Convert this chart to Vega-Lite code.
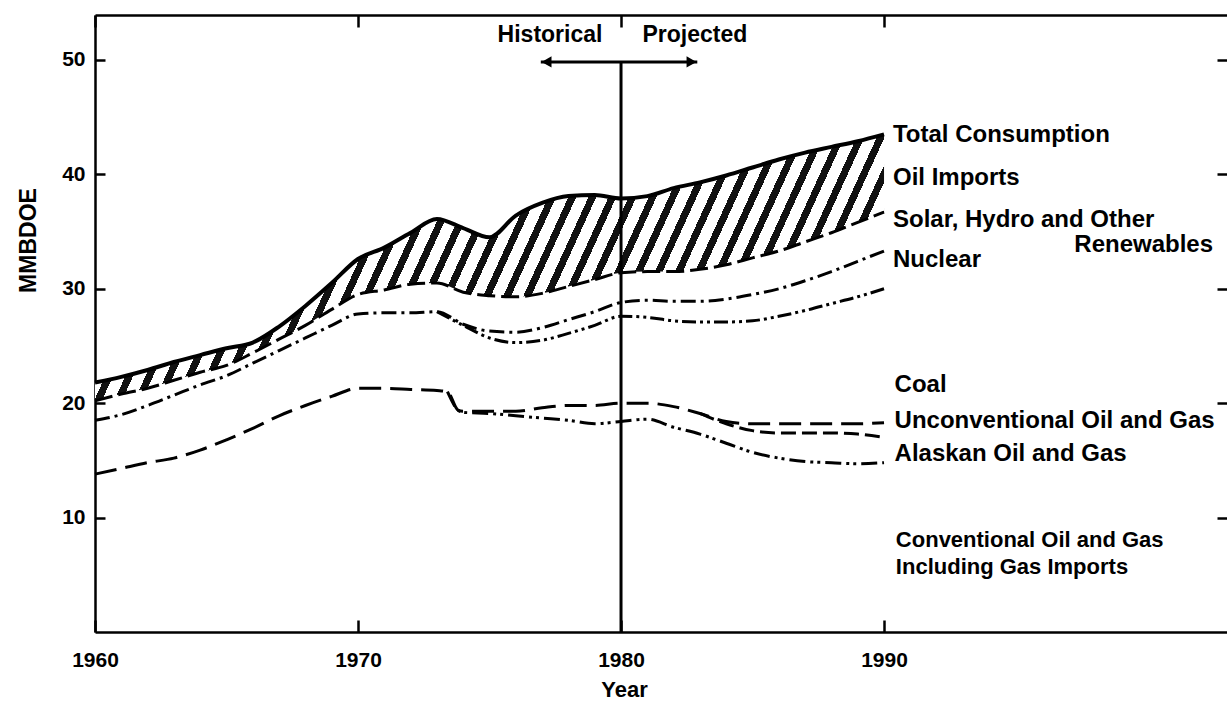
{
  "$schema": "https://vega.github.io/schema/vega-lite/v6.json",
  "width": 1132,
  "height": 617,
  "autosize": {"type": "none"},
  "padding": {"left": 95, "top": 15, "right": 0, "bottom": 72},
  "background": "white",
  "config": {"view": {"stroke": null}, "font": "Liberation Sans"},
  "datasets": {
    "boundaries": [
      {"series":"total","year":1960,"value":21.8},{"series":"total","year":1961,"value":22.3},{"series":"total","year":1962,"value":22.9},{"series":"total","year":1963,"value":23.6},{"series":"total","year":1964,"value":24.2},{"series":"total","year":1965,"value":24.8},{"series":"total","year":1966,"value":25.3},{"series":"total","year":1967,"value":26.7},{"series":"total","year":1968,"value":28.5},{"series":"total","year":1969,"value":30.5},{"series":"total","year":1970,"value":32.6},{"series":"total","year":1971,"value":33.6},{"series":"total","year":1972,"value":34.9},{"series":"total","year":1973,"value":36.1},{"series":"total","year":1974,"value":35.3},{"series":"total","year":1975,"value":34.5},{"series":"total","year":1976,"value":36.4},{"series":"total","year":1977,"value":37.5},{"series":"total","year":1978,"value":38.1},{"series":"total","year":1979,"value":38.2},{"series":"total","year":1980,"value":37.9},{"series":"total","year":1981,"value":38.1},{"series":"total","year":1982,"value":38.8},{"series":"total","year":1983,"value":39.3},{"series":"total","year":1984,"value":39.9},{"series":"total","year":1985,"value":40.6},{"series":"total","year":1986,"value":41.3},{"series":"total","year":1987,"value":41.9},{"series":"total","year":1988,"value":42.4},{"series":"total","year":1989,"value":42.9},{"series":"total","year":1990,"value":43.5},
      {"series":"renewables","year":1960,"value":20.2},{"series":"renewables","year":1961,"value":20.8},{"series":"renewables","year":1962,"value":21.3},{"series":"renewables","year":1963,"value":22.0},{"series":"renewables","year":1964,"value":22.7},{"series":"renewables","year":1965,"value":23.3},{"series":"renewables","year":1966,"value":24.4},{"series":"renewables","year":1967,"value":25.6},{"series":"renewables","year":1968,"value":26.8},{"series":"renewables","year":1969,"value":28.2},{"series":"renewables","year":1970,"value":29.5},{"series":"renewables","year":1971,"value":29.9},{"series":"renewables","year":1972,"value":30.4},{"series":"renewables","year":1973,"value":30.5},{"series":"renewables","year":1974,"value":29.7},{"series":"renewables","year":1975,"value":29.4},{"series":"renewables","year":1976,"value":29.3},{"series":"renewables","year":1977,"value":29.6},{"series":"renewables","year":1978,"value":30.2},{"series":"renewables","year":1979,"value":30.8},{"series":"renewables","year":1980,"value":31.4},{"series":"renewables","year":1981,"value":31.5},{"series":"renewables","year":1982,"value":31.5},{"series":"renewables","year":1983,"value":31.7},{"series":"renewables","year":1984,"value":32.1},{"series":"renewables","year":1985,"value":32.7},{"series":"renewables","year":1986,"value":33.3},{"series":"renewables","year":1987,"value":34.1},{"series":"renewables","year":1988,"value":34.9},{"series":"renewables","year":1989,"value":35.8},{"series":"renewables","year":1990,"value":36.7},
      {"series":"nuclear","year":1960,"value":18.5},{"series":"nuclear","year":1961,"value":19.0},{"series":"nuclear","year":1962,"value":19.8},{"series":"nuclear","year":1963,"value":20.7},{"series":"nuclear","year":1964,"value":21.6},{"series":"nuclear","year":1965,"value":22.4},{"series":"nuclear","year":1966,"value":23.5},{"series":"nuclear","year":1967,"value":24.6},{"series":"nuclear","year":1968,"value":25.7},{"series":"nuclear","year":1969,"value":26.8},{"series":"nuclear","year":1970,"value":27.8},{"series":"nuclear","year":1971,"value":27.9},{"series":"nuclear","year":1972,"value":27.9},{"series":"nuclear","year":1973,"value":28.0},{"series":"nuclear","year":1974,"value":26.9},{"series":"nuclear","year":1975,"value":26.3},{"series":"nuclear","year":1976,"value":26.2},{"series":"nuclear","year":1977,"value":26.6},{"series":"nuclear","year":1978,"value":27.3},{"series":"nuclear","year":1979,"value":28.0},{"series":"nuclear","year":1980,"value":28.8},{"series":"nuclear","year":1981,"value":29.0},{"series":"nuclear","year":1982,"value":28.9},{"series":"nuclear","year":1983,"value":28.9},{"series":"nuclear","year":1984,"value":29.1},{"series":"nuclear","year":1985,"value":29.5},{"series":"nuclear","year":1986,"value":30.0},{"series":"nuclear","year":1987,"value":30.7},{"series":"nuclear","year":1988,"value":31.5},{"series":"nuclear","year":1989,"value":32.4},{"series":"nuclear","year":1990,"value":33.3},
      {"series":"coal","year":1973,"value":28.0},{"series":"coal","year":1974,"value":26.8},{"series":"coal","year":1975,"value":25.7},{"series":"coal","year":1976,"value":25.3},{"series":"coal","year":1977,"value":25.5},{"series":"coal","year":1978,"value":26.1},{"series":"coal","year":1979,"value":26.8},{"series":"coal","year":1980,"value":27.6},{"series":"coal","year":1981,"value":27.5},{"series":"coal","year":1982,"value":27.2},{"series":"coal","year":1983,"value":27.1},{"series":"coal","year":1984,"value":27.1},{"series":"coal","year":1985,"value":27.2},{"series":"coal","year":1986,"value":27.6},{"series":"coal","year":1987,"value":28.1},{"series":"coal","year":1988,"value":28.7},{"series":"coal","year":1989,"value":29.3},{"series":"coal","year":1990,"value":30.0},
      {"series":"unconventional","year":1960,"value":13.8},{"series":"unconventional","year":1961,"value":14.3},{"series":"unconventional","year":1962,"value":14.8},{"series":"unconventional","year":1963,"value":15.2},{"series":"unconventional","year":1964,"value":15.9},{"series":"unconventional","year":1965,"value":16.8},{"series":"unconventional","year":1966,"value":17.8},{"series":"unconventional","year":1967,"value":18.9},{"series":"unconventional","year":1968,"value":19.8},{"series":"unconventional","year":1969,"value":20.6},{"series":"unconventional","year":1970,"value":21.3},{"series":"unconventional","year":1971,"value":21.3},{"series":"unconventional","year":1972,"value":21.2},{"series":"unconventional","year":1973,"value":21.1},{"series":"unconventional","year":1973.4,"value":21.0},{"series":"unconventional","year":1973.8,"value":19.4},{"series":"unconventional","year":1974,"value":19.3},{"series":"unconventional","year":1975,"value":19.3},{"series":"unconventional","year":1976,"value":19.3},{"series":"unconventional","year":1977,"value":19.6},{"series":"unconventional","year":1978,"value":19.8},{"series":"unconventional","year":1979,"value":19.8},{"series":"unconventional","year":1980,"value":20.0},{"series":"unconventional","year":1981,"value":20.0},{"series":"unconventional","year":1982,"value":19.7},{"series":"unconventional","year":1983,"value":19.1},{"series":"unconventional","year":1984,"value":18.4},{"series":"unconventional","year":1985,"value":18.2},{"series":"unconventional","year":1986,"value":18.2},{"series":"unconventional","year":1987,"value":18.2},{"series":"unconventional","year":1988,"value":18.2},{"series":"unconventional","year":1989,"value":18.2},{"series":"unconventional","year":1990,"value":18.3},
      {"series":"alaskan","year":1983,"value":19.1},{"series":"alaskan","year":1984,"value":18.2},{"series":"alaskan","year":1985,"value":17.6},{"series":"alaskan","year":1986,"value":17.4},{"series":"alaskan","year":1987,"value":17.4},{"series":"alaskan","year":1988,"value":17.4},{"series":"alaskan","year":1989,"value":17.3},{"series":"alaskan","year":1990,"value":17.0},
      {"series":"conventional","year":1973.4,"value":21.0},{"series":"conventional","year":1973.8,"value":19.4},{"series":"conventional","year":1974,"value":19.2},{"series":"conventional","year":1975,"value":19.1},{"series":"conventional","year":1976,"value":18.9},{"series":"conventional","year":1977,"value":18.7},{"series":"conventional","year":1978,"value":18.5},{"series":"conventional","year":1979,"value":18.2},{"series":"conventional","year":1980,"value":18.4},{"series":"conventional","year":1981,"value":18.6},{"series":"conventional","year":1982,"value":17.9},{"series":"conventional","year":1983,"value":17.3},{"series":"conventional","year":1984,"value":16.5},{"series":"conventional","year":1985,"value":15.7},{"series":"conventional","year":1986,"value":15.2},{"series":"conventional","year":1987,"value":14.9},{"series":"conventional","year":1988,"value":14.8},{"series":"conventional","year":1989,"value":14.7},{"series":"conventional","year":1990,"value":14.8}
    ],
    "labels": [
      {"x":1990.34,"y":42.83,"label":"Total Consumption"},
      {"x":1990.34,"y":39.07,"label":"Oil Imports"},
      {"x":1990.34,"y":35.4,"label":"Solar, Hydro  and Other"},
      {"x":1990.34,"y":31.91,"label":"Nuclear"},
      {"x":1990.4,"y":20.98,"label":"Coal"},
      {"x":1990.4,"y":17.83,"label":"Unconventional Oil and Gas"},
      {"x":1990.4,"y":14.95,"label":"Alaskan Oil and Gas"}
    ],
    "labelsSmall": [
      {"x":1990.45,"y":7.45,"label":"Conventional Oil and Gas"},
      {"x":1990.45,"y":5.1,"label":"Including  Gas Imports"}
    ],
    "labelsRight": [
      {"x":2002.51,"y":33.22,"label":"Renewables"}
    ],
    "headers": [
      {"x":1977.3,"y":51.57,"label":"Historical"},
      {"x":1982.81,"y":51.57,"label":"Projected"}
    ],
    "divider": [{"year":1980,"low":0,"high":49.83}],
    "arrow": [{"start":1976.95,"end":1982.9,"level":49.83}],
    "heads": [{"year":1977.17,"level":49.83,"dir":"left"},{"year":1982.68,"level":49.83,"dir":"right"}]
  },
  "resolve": {"axis": {"x": "independent", "y": "independent"}},
  "layer": [
    {
      "data": {"name": "boundaries"},
      "transform": [
        {"filter": "datum.series === 'total' || datum.series === 'renewables'"},
        {"pivot": "series", "value": "value", "groupby": ["year"]}
      ],
      "mark": {
        "type": "area",
        "interpolate": "monotone",
        "stroke": null,
        "fill": {
          "gradient": "linear",
          "x1": 0, "y1": 0, "x2": 1.13, "y2": 0.174,
          "stops": [
            {"offset":0,"color":"#111"},{"offset":0.0085,"color":"#111"},{"offset":0.0085,"color":"white"},{"offset":0.022,"color":"white"},
            {"offset":0.022,"color":"#111"},{"offset":0.0305,"color":"#111"},{"offset":0.0305,"color":"white"},{"offset":0.044,"color":"white"},
            {"offset":0.044,"color":"#111"},{"offset":0.0525,"color":"#111"},{"offset":0.0525,"color":"white"},{"offset":0.066,"color":"white"},
            {"offset":0.066,"color":"#111"},{"offset":0.0745,"color":"#111"},{"offset":0.0745,"color":"white"},{"offset":0.088,"color":"white"},
            {"offset":0.088,"color":"#111"},{"offset":0.0965,"color":"#111"},{"offset":0.0965,"color":"white"},{"offset":0.11,"color":"white"},
            {"offset":0.11,"color":"#111"},{"offset":0.1185,"color":"#111"},{"offset":0.1185,"color":"white"},{"offset":0.132,"color":"white"},
            {"offset":0.132,"color":"#111"},{"offset":0.1405,"color":"#111"},{"offset":0.1405,"color":"white"},{"offset":0.154,"color":"white"},
            {"offset":0.154,"color":"#111"},{"offset":0.1625,"color":"#111"},{"offset":0.1625,"color":"white"},{"offset":0.176,"color":"white"},
            {"offset":0.176,"color":"#111"},{"offset":0.1845,"color":"#111"},{"offset":0.1845,"color":"white"},{"offset":0.198,"color":"white"},
            {"offset":0.198,"color":"#111"},{"offset":0.2065,"color":"#111"},{"offset":0.2065,"color":"white"},{"offset":0.22,"color":"white"},
            {"offset":0.22,"color":"#111"},{"offset":0.2285,"color":"#111"},{"offset":0.2285,"color":"white"},{"offset":0.242,"color":"white"},
            {"offset":0.242,"color":"#111"},{"offset":0.2505,"color":"#111"},{"offset":0.2505,"color":"white"},{"offset":0.264,"color":"white"},
            {"offset":0.264,"color":"#111"},{"offset":0.2725,"color":"#111"},{"offset":0.2725,"color":"white"},{"offset":0.286,"color":"white"},
            {"offset":0.286,"color":"#111"},{"offset":0.2945,"color":"#111"},{"offset":0.2945,"color":"white"},{"offset":0.308,"color":"white"},
            {"offset":0.308,"color":"#111"},{"offset":0.3165,"color":"#111"},{"offset":0.3165,"color":"white"},{"offset":0.33,"color":"white"},
            {"offset":0.33,"color":"#111"},{"offset":0.3385,"color":"#111"},{"offset":0.3385,"color":"white"},{"offset":0.352,"color":"white"},
            {"offset":0.352,"color":"#111"},{"offset":0.3605,"color":"#111"},{"offset":0.3605,"color":"white"},{"offset":0.374,"color":"white"},
            {"offset":0.374,"color":"#111"},{"offset":0.3825,"color":"#111"},{"offset":0.3825,"color":"white"},{"offset":0.396,"color":"white"},
            {"offset":0.396,"color":"#111"},{"offset":0.4045,"color":"#111"},{"offset":0.4045,"color":"white"},{"offset":0.418,"color":"white"},
            {"offset":0.418,"color":"#111"},{"offset":0.4265,"color":"#111"},{"offset":0.4265,"color":"white"},{"offset":0.44,"color":"white"},
            {"offset":0.44,"color":"#111"},{"offset":0.4485,"color":"#111"},{"offset":0.4485,"color":"white"},{"offset":0.462,"color":"white"},
            {"offset":0.462,"color":"#111"},{"offset":0.4705,"color":"#111"},{"offset":0.4705,"color":"white"},{"offset":0.484,"color":"white"},
            {"offset":0.484,"color":"#111"},{"offset":0.4925,"color":"#111"},{"offset":0.4925,"color":"white"},{"offset":0.506,"color":"white"},
            {"offset":0.506,"color":"#111"},{"offset":0.5145,"color":"#111"},{"offset":0.5145,"color":"white"},{"offset":0.528,"color":"white"},
            {"offset":0.528,"color":"#111"},{"offset":0.5365,"color":"#111"},{"offset":0.5365,"color":"white"},{"offset":0.55,"color":"white"},
            {"offset":0.55,"color":"#111"},{"offset":0.5585,"color":"#111"},{"offset":0.5585,"color":"white"},{"offset":0.572,"color":"white"},
            {"offset":0.572,"color":"#111"},{"offset":0.5805,"color":"#111"},{"offset":0.5805,"color":"white"},{"offset":0.594,"color":"white"},
            {"offset":0.594,"color":"#111"},{"offset":0.6025,"color":"#111"},{"offset":0.6025,"color":"white"},{"offset":0.616,"color":"white"},
            {"offset":0.616,"color":"#111"},{"offset":0.6245,"color":"#111"},{"offset":0.6245,"color":"white"},{"offset":0.638,"color":"white"},
            {"offset":0.638,"color":"#111"},{"offset":0.6465,"color":"#111"},{"offset":0.6465,"color":"white"},{"offset":0.66,"color":"white"},
            {"offset":0.66,"color":"#111"},{"offset":0.6685,"color":"#111"},{"offset":0.6685,"color":"white"},{"offset":0.682,"color":"white"},
            {"offset":0.682,"color":"#111"},{"offset":0.6905,"color":"#111"},{"offset":0.6905,"color":"white"},{"offset":0.704,"color":"white"},
            {"offset":0.704,"color":"#111"},{"offset":0.7125,"color":"#111"},{"offset":0.7125,"color":"white"},{"offset":0.726,"color":"white"},
            {"offset":0.726,"color":"#111"},{"offset":0.7345,"color":"#111"},{"offset":0.7345,"color":"white"},{"offset":0.748,"color":"white"},
            {"offset":0.748,"color":"#111"},{"offset":0.7565,"color":"#111"},{"offset":0.7565,"color":"white"},{"offset":0.77,"color":"white"},
            {"offset":0.77,"color":"#111"},{"offset":0.7785,"color":"#111"},{"offset":0.7785,"color":"white"},{"offset":0.792,"color":"white"},
            {"offset":0.792,"color":"#111"},{"offset":0.8005,"color":"#111"},{"offset":0.8005,"color":"white"},{"offset":0.814,"color":"white"},
            {"offset":0.814,"color":"#111"},{"offset":0.8225,"color":"#111"},{"offset":0.8225,"color":"white"},{"offset":0.836,"color":"white"},
            {"offset":0.836,"color":"#111"},{"offset":0.8445,"color":"#111"},{"offset":0.8445,"color":"white"},{"offset":0.858,"color":"white"},
            {"offset":0.858,"color":"#111"},{"offset":0.8665,"color":"#111"},{"offset":0.8665,"color":"white"},{"offset":0.88,"color":"white"},
            {"offset":0.88,"color":"#111"},{"offset":0.8885,"color":"#111"},{"offset":0.8885,"color":"white"},{"offset":0.902,"color":"white"},
            {"offset":0.902,"color":"#111"},{"offset":0.9105,"color":"#111"},{"offset":0.9105,"color":"white"},{"offset":0.924,"color":"white"},
            {"offset":0.924,"color":"#111"},{"offset":0.9325,"color":"#111"},{"offset":0.9325,"color":"white"},{"offset":0.946,"color":"white"},
            {"offset":0.946,"color":"#111"},{"offset":0.9545,"color":"#111"},{"offset":0.9545,"color":"white"},{"offset":0.968,"color":"white"},
            {"offset":0.968,"color":"#111"},{"offset":0.9765,"color":"#111"},{"offset":0.9765,"color":"white"},{"offset":0.99,"color":"white"},
            {"offset":0.99,"color":"#111"},{"offset":0.9985,"color":"#111"},{"offset":0.9985,"color":"white"},{"offset":1,"color":"white"}
          ]
        }
      },
      "encoding": {
        "x": {
          "field": "year", "type": "quantitative",
          "scale": {"domain": [1960, 2003.04], "nice": false, "zero": false},
          "axis": {
            "orient": "bottom", "values": [1960, 1970, 1980, 1990], "format": "d",
            "tickSize": -12, "tickWidth": 2.5, "tickColor": "black",
            "domainColor": "black", "domainWidth": 2.5, "grid": false,
            "labelFont": "Liberation Sans", "labelFontWeight": "bold", "labelFontSize": 21, "labelColor": "black",
            "labelPadding": 40, "labelBaseline": "middle", "labelFlush": false, "labelOverlap": false,
            "title": "Year", "titleFont": "Liberation Sans", "titleFontWeight": "bold", "titleFontSize": 22, "titleColor": "black",
            "titleX": 529, "titleY": 57, "titleAlign": "center", "titleBaseline": "middle"
          }
        },
        "y": {
          "field": "total", "type": "quantitative",
          "scale": {"domain": [0, 53.93], "nice": false},
          "axis": {
            "orient": "left", "values": [10, 20, 30, 40, 50],
            "tickSize": -10, "tickWidth": 2.5, "tickColor": "black",
            "domainColor": "black", "domainWidth": 2.5, "grid": false,
            "labelFont": "Liberation Sans", "labelFontWeight": "bold", "labelFontSize": 21, "labelColor": "black",
            "labelPadding": 20, "labelBaseline": "middle", "labelAlign": "right",
            "title": "MMBDOE", "titleFont": "Liberation Sans", "titleFontWeight": "bold", "titleFontSize": 23, "titleColor": "black",
            "titleAngle": 270, "titleX": -67, "titleY": 225, "titleAlign": "center", "titleBaseline": "middle"
          }
        },
        "y2": {"field": "renewables"}
      }
    },
    {
      "data": {"name": "boundaries"},
      "transform": [{"filter": "datum.series !== 'total'"}],
      "mark": {"type": "line", "interpolate": "monotone", "color": "black", "strokeWidth": 3},
      "encoding": {
        "x": {
          "field": "year", "type": "quantitative",
          "scale": {"domain": [1960, 2003.04], "nice": false, "zero": false},
          "axis": {"orient": "top", "values": [1960, 1970, 1980, 1990], "tickSize": -12, "tickWidth": 2.5, "tickColor": "black", "domainColor": "black", "domainWidth": 2.5, "labels": false, "grid": false, "title": null}
        },
        "y": {
          "field": "value", "type": "quantitative",
          "scale": {"domain": [0, 53.93], "nice": false},
          "axis": {"orient": "right", "values": [10, 20, 30, 40, 50], "tickSize": -10, "tickWidth": 2.5, "tickColor": "black", "domain": false, "labels": false, "grid": false, "title": null}
        },
        "strokeDash": {
          "field": "series", "type": "nominal", "legend": null,
          "scale": {
            "domain": ["renewables", "nuclear", "coal", "unconventional", "alaskan", "conventional"],
            "range": [[18, 6], [15, 5, 3, 5], [14, 4, 3, 4, 3, 4], [22, 9], [15, 6], [16, 5, 3, 4, 3, 5]]
          }
        }
      }
    },
    {
      "data": {"name": "boundaries"},
      "transform": [{"filter": "datum.series === 'total'"}],
      "mark": {"type": "line", "interpolate": "monotone", "color": "black", "strokeWidth": 4},
      "encoding": {
        "x": {"field": "year", "type": "quantitative", "scale": {"domain": [1960, 2003.04], "nice": false, "zero": false}, "axis": null},
        "y": {"field": "value", "type": "quantitative", "scale": {"domain": [0, 53.93], "nice": false}, "axis": null}
      }
    },
    {
      "data": {"name": "divider"},
      "mark": {"type": "rule", "color": "black", "strokeWidth": 3},
      "encoding": {
        "x": {"field": "year", "type": "quantitative", "scale": {"domain": [1960, 2003.04], "nice": false, "zero": false}, "axis": null},
        "y": {"field": "low", "type": "quantitative", "scale": {"domain": [0, 53.93], "nice": false}, "axis": null},
        "y2": {"field": "high"}
      }
    },
    {
      "data": {"name": "arrow"},
      "mark": {"type": "rule", "color": "black", "strokeWidth": 3},
      "encoding": {
        "x": {"field": "start", "type": "quantitative", "scale": {"domain": [1960, 2003.04], "nice": false, "zero": false}, "axis": null},
        "x2": {"field": "end"},
        "y": {"field": "level", "type": "quantitative", "scale": {"domain": [0, 53.93], "nice": false}, "axis": null}
      }
    },
    {
      "data": {"name": "heads"},
      "mark": {"type": "point", "filled": true, "color": "black", "size": 130, "opacity": 1, "strokeWidth": 0},
      "encoding": {
        "x": {"field": "year", "type": "quantitative", "scale": {"domain": [1960, 2003.04], "nice": false, "zero": false}, "axis": null},
        "y": {"field": "level", "type": "quantitative", "scale": {"domain": [0, 53.93], "nice": false}, "axis": null},
        "shape": {"field": "dir", "type": "nominal", "legend": null, "scale": {"domain": ["left", "right"], "range": ["triangle-left", "triangle-right"]}}
      }
    },
    {
      "data": {"name": "labels"},
      "mark": {"type": "text", "align": "left", "baseline": "alphabetic", "font": "Liberation Sans", "fontWeight": "bold", "fontSize": 24, "color": "black"},
      "encoding": {
        "x": {"field": "x", "type": "quantitative", "scale": {"domain": [1960, 2003.04], "nice": false, "zero": false}, "axis": null},
        "y": {"field": "y", "type": "quantitative", "scale": {"domain": [0, 53.93], "nice": false}, "axis": null},
        "text": {"field": "label"}
      }
    },
    {
      "data": {"name": "labelsSmall"},
      "mark": {"type": "text", "align": "left", "baseline": "alphabetic", "font": "Liberation Sans", "fontWeight": "bold", "fontSize": 22, "color": "black"},
      "encoding": {
        "x": {"field": "x", "type": "quantitative", "scale": {"domain": [1960, 2003.04], "nice": false, "zero": false}, "axis": null},
        "y": {"field": "y", "type": "quantitative", "scale": {"domain": [0, 53.93], "nice": false}, "axis": null},
        "text": {"field": "label"}
      }
    },
    {
      "data": {"name": "labelsRight"},
      "mark": {"type": "text", "align": "right", "baseline": "alphabetic", "font": "Liberation Sans", "fontWeight": "bold", "fontSize": 24, "color": "black"},
      "encoding": {
        "x": {"field": "x", "type": "quantitative", "scale": {"domain": [1960, 2003.04], "nice": false, "zero": false}, "axis": null},
        "y": {"field": "y", "type": "quantitative", "scale": {"domain": [0, 53.93], "nice": false}, "axis": null},
        "text": {"field": "label"}
      }
    },
    {
      "data": {"name": "headers"},
      "mark": {"type": "text", "align": "center", "baseline": "alphabetic", "font": "Liberation Sans", "fontWeight": "bold", "fontSize": 23, "color": "black"},
      "encoding": {
        "x": {"field": "x", "type": "quantitative", "scale": {"domain": [1960, 2003.04], "nice": false, "zero": false}, "axis": null},
        "y": {"field": "y", "type": "quantitative", "scale": {"domain": [0, 53.93], "nice": false}, "axis": null},
        "text": {"field": "label"}
      }
    }
  ]
}
